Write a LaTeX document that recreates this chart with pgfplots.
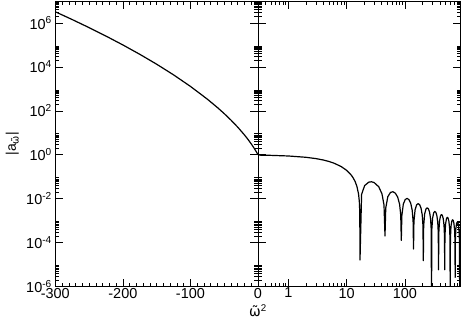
\documentclass[border=0pt]{standalone}
\usepackage{fontspec}
\setmainfont{Liberation Sans}
\newfontfamily\dv{DejaVu Sans}
\usepackage{pgfplots}
\pgfplotsset{compat=1.18}

% |a| for negative omega^2 (left panel)
\pgfplotstableread{
w2       a
-300     3.2335e6
-275     1.4307e6
-250     6.1304e5
-225     2.5282e5
-200     9.985e4
-175     3.7473e4
-150     1.3246e4
-125     4341
-100     1294.2
-75      340.0
-60      140.5
-50      74.52
-40      37.76
-30      18.03
-20      7.950
-15      5.070
-10      3.118
-7.5     2.404
-5       1.8275
-2.5     1.366
-1       1.136
0        1
}\negdata

% |a| for positive omega^2 (right panel)
\pgfplotstableread{
w2       a
0.3      0.9617
0.5      0.9368
1        0.8766
2        0.7647
3        0.6637
4        0.5728
5        0.4907
6        0.4171
8        0.2926
10       0.1944
12       0.1179
13       0.0866
14       0.0596
15       0.0362
16       0.0164
16.5     0.00758
16.8     0.00256
16.96    1.6e-5
18.06    0.01575
20.37    0.03934
24.09    0.05685
26.74    0.05865
29.54    0.05445
35.53    0.03497
40.39    0.01672
43.80    0.0052
45.56    2.0e-4
46.96    0.003747
50.91    0.012272
56.56    0.019173
62.50    0.02066
68.74    0.017663
75.28    0.011722
81.18    0.005553
84.92    0.001787
86.83    1.26e-4
88.74    0.001691
94.10    0.005695
101.65   0.009213
109.50   0.010249
117.65   0.009023
126.08   0.006152
133.62   0.002978
138.38   0.00097
140.78   5.1e-5
143.20   0.00093
149.96   0.00318
159.43   0.00525
169.18   0.00595
179.23   0.005331
189.56   0.003695
198.75   0.001813
204.51   0.000596
207.43   1.5e-5
210.36   0.000575
218.51   0.001986
229.88   0.003322
241.54   0.003813
253.50   0.003456
265.74   0.002423
276.57   0.0012
283.35   0.000396
286.77   1e-7
290.21   0.000385
299.76   0.001338
313.04   0.002259
326.60   0.002615
340.46   0.00239
354.60   0.001689
367.08   0.000842
374.87   0.000279
378.80   5.8e-6
382.74   0.000272
393.70   0.000952
408.88   0.001617
424.35   0.001885
440.11   0.001735
456.16   0.001233
470.29   0.000618
479.10   0.000206
483.53   5.8e-6
487.98   0.000201
500.33   0.000705
517.41   0.001205
534.79   0.001412
552.45   0.001305
570.40   0.000932
586.19   0.000469
596.01   0.000156
600.95   1e-7
605.91   0.000153
619.65   0.00054
638.64   0.000926
657.92   0.00109
677.49   0.001011
697.34   0.000725
714.78   0.000366
725.61   0.000122
731.06   2.6e-6
736.53   0.00012
751.67   0.000424
772.57   0.00073
793.76   0.000862
815.22   0.000803
836.98   0.000577
856.06   0.000292
867.92   0.0000978
873.9    1e-7
879.85   0.0000961
896.4    0.00034
919.2    0.00059
}\posdata

\pgfplotsset{
  panel/.style={
    scale only axis,
    width=202.7bp, height=285.5bp,
    ymin=1e-6, ymax=1e7,
    ytick={1e-6,1e-4,1e-2,1,1e2,1e4,1e6},
    minor ytick={2e-6,3e-6,4e-6,5e-6,6e-6,7e-6,8e-6,9e-6,
                 2e-4,3e-4,4e-4,5e-4,6e-4,7e-4,8e-4,9e-4,
                 2e-2,3e-2,4e-2,5e-2,6e-2,7e-2,8e-2,9e-2,
                 2,3,4,5,6,7,8,9,
                 2e2,3e2,4e2,5e2,6e2,7e2,8e2,9e2,
                 2e4,3e4,4e4,5e4,6e4,7e4,8e4,9e4,
                 2e6,3e6,4e6,5e6,6e6,7e6,8e6,9e6},
    tick align=inside,
    major tick length=8bp, minor tick length=4bp,
    axis line style={line width=0.8bp},
    every tick/.style={black, line width=0.6bp},
    every tick label/.append style={font=\fontsize{14.5}{16}\selectfont},
    xticklabel style={yshift=2bp},
  },
}

\begin{document}
\begin{tikzpicture}
\useasboundingbox (-55.3bp,-41.5bp) rectangle (407.7bp,286.5bp);

\begin{semilogyaxis}[panel,
    at={(0,0)}, anchor=south west,
    xmin=-300, xmax=0,
    xtick={-300,-200,-100,0},
    xticklabels={-300,-200,-100,0},
    minor x tick num=9,
    yticklabels={10\textsuperscript{-6},10\textsuperscript{-4},10\textsuperscript{-2},10\textsuperscript{0},10\textsuperscript{2},10\textsuperscript{4},10\textsuperscript{6}},
]
\addplot[black, line width=1.2bp] table[x=w2, y=a] {\negdata};
\end{semilogyaxis}

\begin{loglogaxis}[panel,
    at={(202.7bp,0)}, anchor=south west,
    xmin=0.3, xmax=910,
    xtick={1,10,100},
    xticklabels={1,10,100},
    minor xtick={0.4,0.5,0.6,0.7,0.8,0.9,2,3,4,5,6,7,8,9,20,30,40,50,60,70,80,90,200,300,400,500,600,700,800,900},
    yticklabels={},
]
\addplot[black, line width=1.2bp, line join=round] table[x=w2, y=a] {\posdata};
\end{loglogaxis}

\node[font=\fontsize{14}{16}\selectfont] at (202.7bp,-24bp) {{\dv ω̃}\textsuperscript{2}};
\node[font=\fontsize{14}{16}\selectfont, rotate=90] at (-43bp,142.75bp) {|a\textsubscript{\dv ω̃}|};
\end{tikzpicture}
\end{document}
